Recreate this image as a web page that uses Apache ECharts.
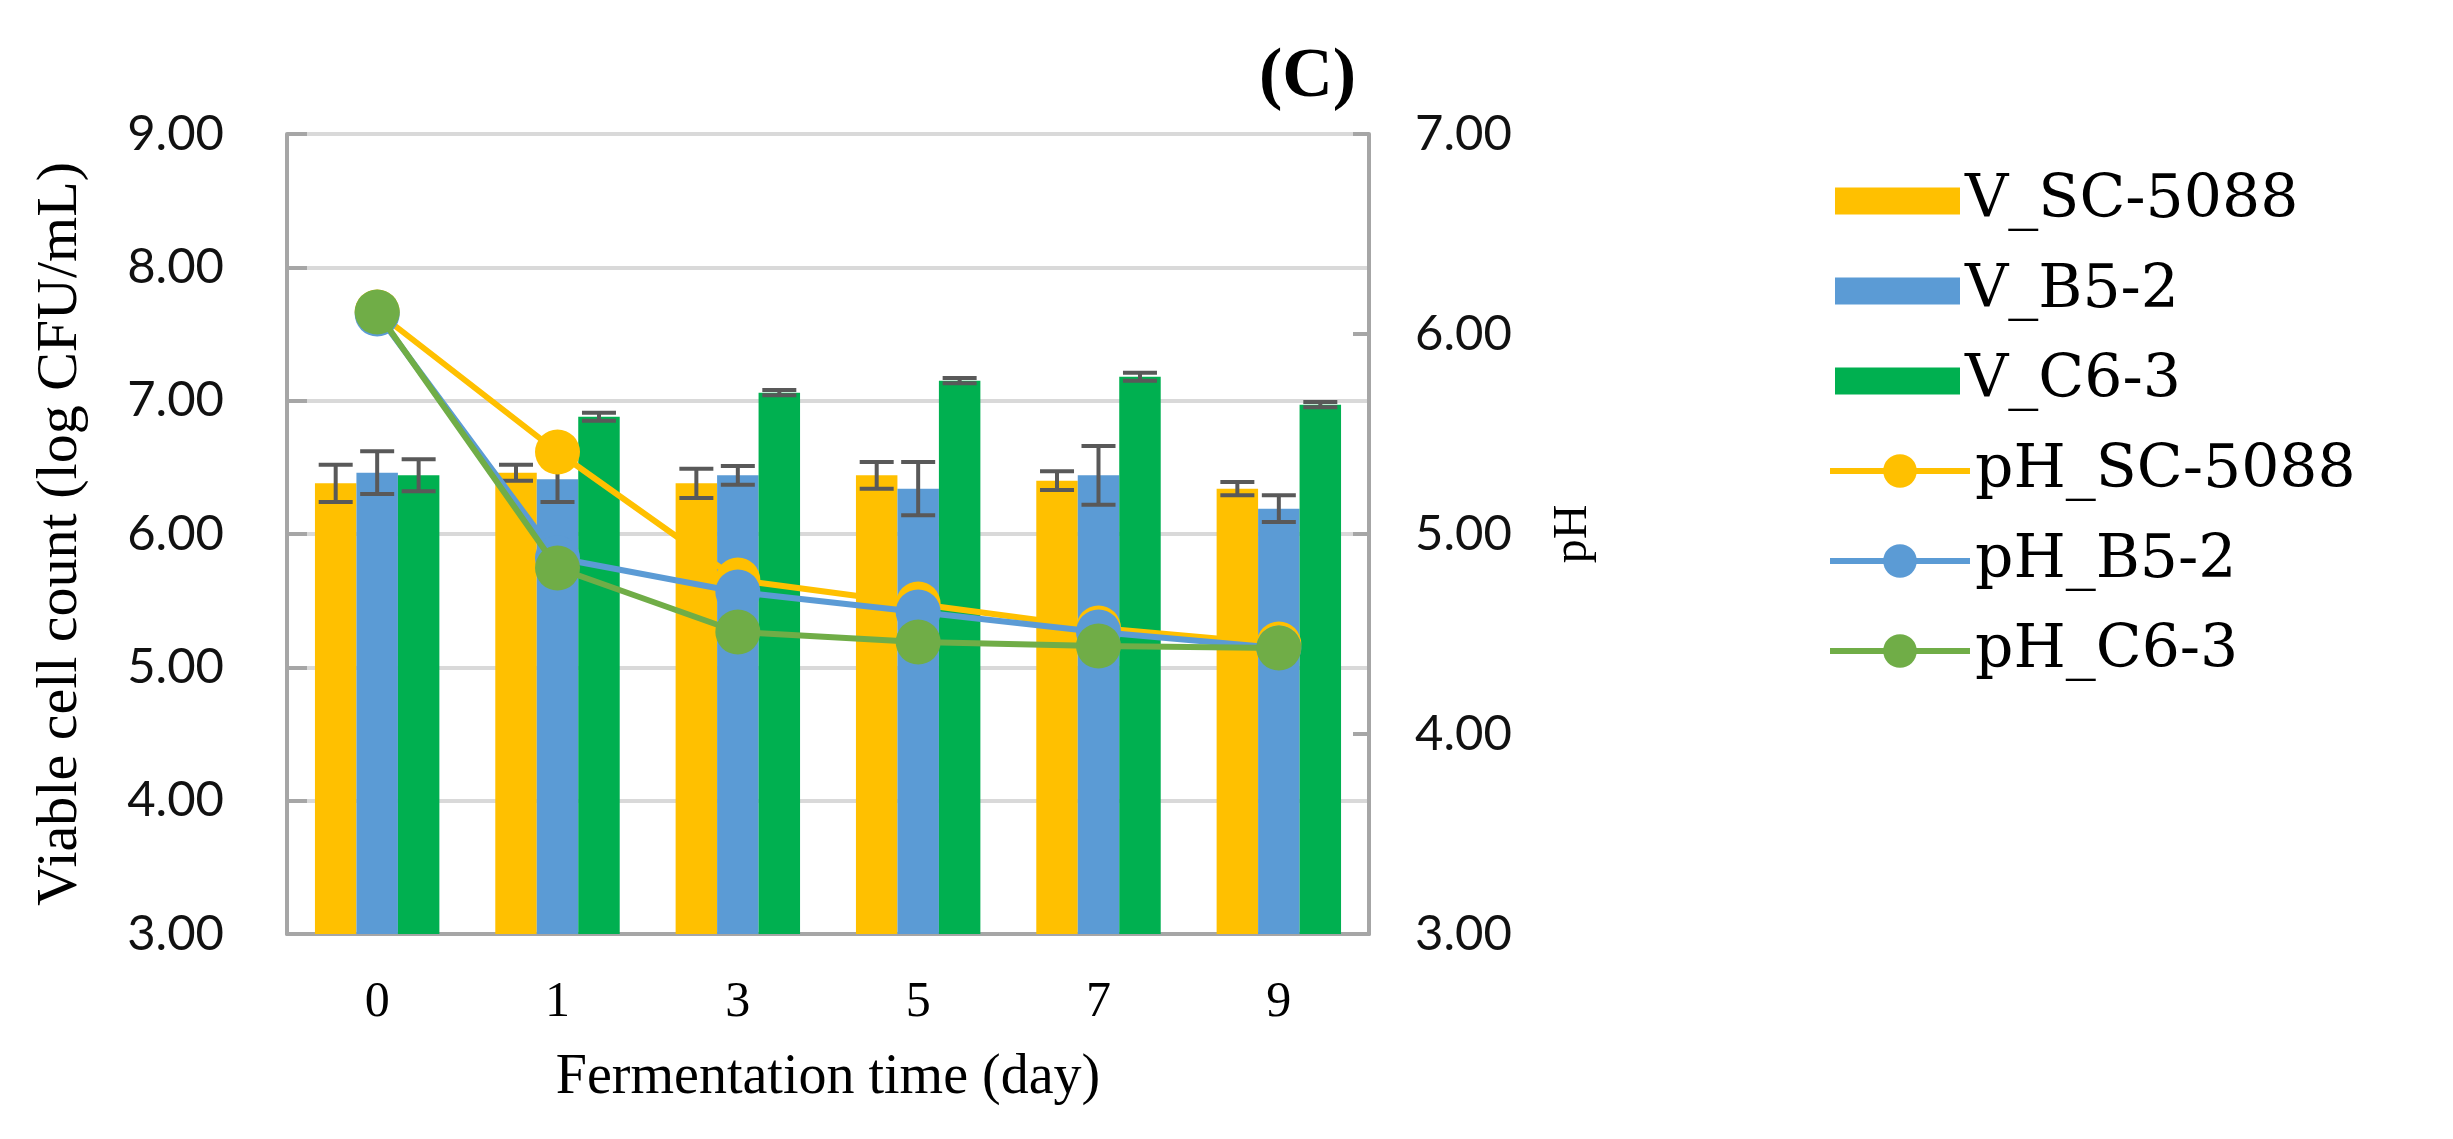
<!DOCTYPE html>
<html>
<head>
<meta charset="utf-8">
<script src="https://cdn.jsdelivr.net/npm/echarts@6/dist/echarts.min.js"></script>
<style>
html,body{margin:0;padding:0;background:#fff;}
#chart{width:2453px;height:1139px;}
</style>
</head>
<body>
<div id="chart"></div>
<script>
// ---- data ----
const days = ['0', '1', '3', '5', '7', '9'];
const leftTicks = [3, 4, 5, 6, 7, 8, 9];
const rightTicks = [3, 4, 5, 6, 7];

const vSC = [6.38, 6.46, 6.38, 6.44, 6.40, 6.34];
const vSCErr = [0.14, 0.06, 0.11, 0.10, 0.07, 0.05];
const vB5 = [6.46, 6.41, 6.44, 6.34, 6.44, 6.19];
const vB5Err = [0.16, 0.17, 0.07, 0.20, 0.22, 0.10];
const vC6 = [6.44, 6.88, 7.06, 7.15, 7.18, 6.97];
const vC6Err = [0.12, 0.03, 0.02, 0.02, 0.03, 0.02];

const phSC = [6.11, 5.41, 4.77, 4.65, 4.53, 4.45];
const phB5 = [6.10, 4.88, 4.71, 4.61, 4.51, 4.43];
const phC6 = [6.11, 4.83, 4.51, 4.46, 4.44, 4.43];

const names = ['V_SC-5088', 'V_B5-2', 'V_C6-3', 'pH_SC-5088', 'pH_B5-2', 'pH_C6-3'];

// ---- styles ----
const YEL = '#FFC000', BLU = '#5B9BD5', GRN = '#00B050', LGRN = '#70AD47';
const AXIS = '#A6A6A6', GRID = '#D9D9D9', ERR = '#595959';
const BAR_FRAC = 0.23;

const chart = echarts.init(document.getElementById('chart'));

function errData(vals, errs, idx) {
  return vals.map((v, i) => [i, v - errs[i], v + errs[i], idx]);
}
const errAll = [].concat(errData(vSC, vSCErr, 0), errData(vB5, vB5Err, 1), errData(vC6, vC6Err, 2));

function renderErr(params, api) {
  const cat = api.value(0), lo = api.value(1), hi = api.value(2), k = api.value(3);
  const band = api.size([1, 0])[0];
  const bw = band * BAR_FRAC;
  const off = (k - 1) * bw;
  const pLo = api.coord([cat, lo]);
  const pHi = api.coord([cat, hi]);
  const x = pLo[0] + off;
  const cap = 17;
  const st = {stroke: ERR, lineWidth: 4};
  return {
    type: 'group',
    children: [
      {type: 'line', shape: {x1: x, y1: pLo[1], x2: x, y2: pHi[1]}, style: st},
      {type: 'line', shape: {x1: x - cap, y1: pLo[1], x2: x + cap, y2: pLo[1]}, style: st},
      {type: 'line', shape: {x1: x - cap, y1: pHi[1], x2: x + cap, y2: pHi[1]}, style: st}
    ]
  };
}

const tickFont = {fontFamily: 'Lato', fontSize: 49, color: '#111'};
const legendText = {fontFamily: 'DejaVu Serif', fontSize: 60, lineHeight: 60, color: '#000'};

const option = {
  backgroundColor: '#fff',
  animation: false,
  title: {
    text: '(C)', left: 1254, top: 38,
    textStyle: {fontFamily: 'Liberation Serif', fontWeight: 'bold', fontSize: 70, color: '#000'}
  },
  legend: [
    {
      orient: 'vertical', left: 1830, top: 166,
      itemWidth: 125, itemHeight: 27, itemGap: 30,
      data: [
        {name: names[0], icon: 'rect'},
        {name: names[1], icon: 'rect'},
        {name: names[2], icon: 'rect'}
      ],
      textStyle: legendText
    },
    {
      orient: 'vertical', left: 1822, top: 436,
      itemWidth: 140, itemHeight: 42, itemGap: 30,
      lineStyle: {width: 6},
      data: [names[3], names[4], names[5]],
      textStyle: legendText
    }
  ],
  grid: {left: 287, right: 1084, top: 134, bottom: 205, containLabel: false},
  xAxis: {
    type: 'category', data: days,
    name: 'Fermentation time (day)', nameLocation: 'middle', nameGap: 116,
    nameTextStyle: {fontFamily: 'Liberation Serif', fontSize: 56, color: '#000'},
    axisLine: {show: true, lineStyle: {color: AXIS, width: 4}},
    axisTick: {show: false},
    axisLabel: {fontFamily: 'Liberation Serif', fontSize: 50, color: '#000', margin: 44}
  },
  yAxis: [
    {
      type: 'value', min: 3, max: 9, interval: 1,
      name: 'Viable cell count (log CFU/mL)', nameLocation: 'middle', nameGap: 197, nameRotate: 90,
      nameTextStyle: {fontFamily: 'Liberation Serif', fontSize: 58, color: '#000'},
      axisLine: {show: true, lineStyle: {color: AXIS, width: 4}},
      axisTick: {show: true, inside: true, length: 20, lineStyle: {color: AXIS, width: 4}},
      splitLine: {show: true, lineStyle: {color: GRID, width: 4}},
      axisLabel: Object.assign({margin: 63, formatter: v => v.toFixed(2)}, tickFont)
    },
    {
      type: 'value', min: 3, max: 7, interval: 1, position: 'right',
      name: 'pH', nameLocation: 'middle', nameGap: 180, nameRotate: 90,
      nameTextStyle: {fontFamily: 'Liberation Serif', fontSize: 48, color: '#000'},
      axisLine: {show: true, lineStyle: {color: AXIS, width: 4}},
      axisTick: {show: true, inside: true, length: 16, lineStyle: {color: AXIS, width: 4}},
      splitLine: {show: false},
      axisLabel: Object.assign({margin: 46, formatter: v => v.toFixed(2)}, tickFont)
    }
  ],
  series: [
    {name: names[0], type: 'bar', data: vSC, barWidth: (BAR_FRAC * 100) + '%', barGap: '0%', itemStyle: {color: YEL}, z: 2},
    {name: names[1], type: 'bar', data: vB5, barWidth: (BAR_FRAC * 100) + '%', barGap: '0%', itemStyle: {color: BLU}, z: 2},
    {name: names[2], type: 'bar', data: vC6, barWidth: (BAR_FRAC * 100) + '%', barGap: '0%', itemStyle: {color: GRN}, z: 2},
    {type: 'custom', data: errAll, renderItem: renderErr, encode: {x: 0, y: [1, 2]}, z: 3, silent: true},
    {name: names[3], type: 'line', yAxisIndex: 1, data: phSC, symbol: 'circle', symbolSize: 45,
      lineStyle: {color: YEL, width: 6}, itemStyle: {color: YEL}, z: 4},
    {name: names[4], type: 'line', yAxisIndex: 1, data: phB5, symbol: 'circle', symbolSize: 45,
      lineStyle: {color: BLU, width: 6}, itemStyle: {color: BLU}, z: 5},
    {name: names[5], type: 'line', yAxisIndex: 1, data: phC6, symbol: 'circle', symbolSize: 45,
      lineStyle: {color: LGRN, width: 6}, itemStyle: {color: LGRN}, z: 6}
  ]
};
chart.setOption(option);
</script>
</body>
</html>
